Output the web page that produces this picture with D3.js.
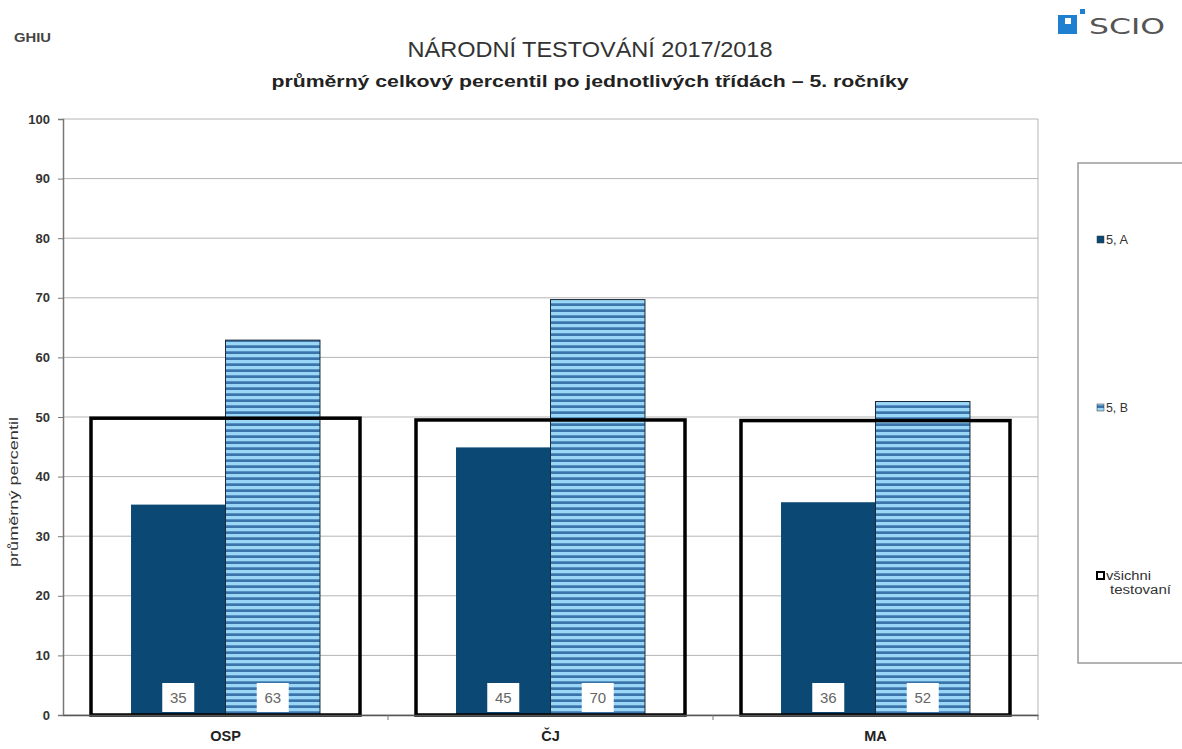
<!DOCTYPE html>
<html>
<head>
<meta charset="utf-8">
<script src="https://cdn.jsdelivr.net/npm/d3@7"></script>
<style>
  body { margin: 0; background: #fff; font-family: Arial, "Liberation Sans", sans-serif; }
  .axis text { font-family: Arial, "Liberation Sans", sans-serif; }
</style>
</head>
<body>
<div id="chart"></div>
<script>
// data
let categories = ["OSP", "ČJ", "MA"];
let seriesNames = ["5, A", "5, B"];
let classA = [35.3, 44.9, 35.7];
let classB = [62.9, 69.7, 52.6];
let allTested = [49.8, 49.5, 49.4];
let valueLabels = [[35, 63], [45, 70], [36, 52]];
let yTicks = [0, 10, 20, 30, 40, 50, 60, 70, 80, 90, 100];

let width = 1182, height = 749;
let margin = {top: 119, right: 144, bottom: 34, left: 63};

let svg = d3.select("#chart").append("svg")
    .attr("width", width)
    .attr("height", height);

// stripe pattern for 5. B
let defs = svg.append("defs");
let pat = defs.append("pattern")
    .attr("id", "stripes")
    .attr("patternUnits", "userSpaceOnUse")
    .attr("width", 8).attr("height", 6);
pat.append("rect").attr("width", 8).attr("height", 6).attr("fill", "#9ad7f7");
pat.append("rect").attr("y", 3.3).attr("width", 8).attr("height", 2.7).attr("fill", "#3b74aa");

// header texts
svg.append("text")
    .attr("x", 14).attr("y", 42)
    .attr("font-size", 13).attr("font-weight", "bold")
    .attr("fill", "#444")
    .attr("textLength", 37).attr("lengthAdjust", "spacingAndGlyphs")
    .text("GHIU");

svg.append("text")
    .attr("x", 590).attr("y", 57)
    .attr("text-anchor", "middle")
    .attr("font-size", 22).attr("fill", "#333")
    .attr("textLength", 365).attr("lengthAdjust", "spacingAndGlyphs")
    .text("NÁRODNÍ TESTOVÁNÍ 2017/2018");

svg.append("text")
    .attr("x", 590).attr("y", 87)
    .attr("text-anchor", "middle")
    .attr("font-size", 17).attr("font-weight", "bold").attr("fill", "#222")
    .attr("textLength", 637).attr("lengthAdjust", "spacingAndGlyphs")
    .text("průměrný celkový percentil po jednotlivých třídách – 5. ročníky");

// scio logo
let logo = svg.append("g");
logo.append("rect").attr("x", 1058).attr("y", 15).attr("width", 19).attr("height", 19).attr("fill", "#1f7fd0");
logo.append("rect").attr("x", 1065).attr("y", 18).attr("width", 6).attr("height", 6).attr("fill", "#fff");
logo.append("rect").attr("x", 1080).attr("y", 9).attr("width", 5).attr("height", 5).attr("fill", "#1f7fd0");
logo.append("text")
    .attr("x", 1089).attr("y", 34)
    .attr("font-size", 22).attr("fill", "#555")
    .attr("font-family", "'DejaVu Sans', sans-serif")
    .attr("textLength", 76).attr("lengthAdjust", "spacingAndGlyphs")
    .text("SCIO");

// scales
let x = d3.scaleBand()
    .domain(categories)
    .range([margin.left, width - margin.right])
    .paddingInner(0).paddingOuter(0);

let xInner = d3.scaleBand()
    .domain(seriesNames)
    .range([0, x.bandwidth()])
    .paddingInner(0)
    .paddingOuter(0.72);

let y = d3.scaleLinear()
    .domain([0, 100])
    .range([height - margin.bottom, margin.top]);

// gridlines
svg.append("g")
    .selectAll("line")
    .data(yTicks)
    .join("line")
    .attr("x1", margin.left).attr("x2", width - margin.right)
    .attr("y1", d => y(d)).attr("y2", d => y(d))
    .attr("stroke", "#b5b5b5").attr("stroke-width", 1);

// right border of plot
svg.append("line")
    .attr("x1", width - margin.right).attr("x2", width - margin.right)
    .attr("y1", y(100)).attr("y2", y(0))
    .attr("stroke", "#b5b5b5");

// bars
let groups = svg.append("g")
    .selectAll("g")
    .data(categories)
    .join("g")
    .attr("transform", d => `translate(${x(d)},0)`);

groups.append("rect")
    .attr("x", xInner("5, A"))
    .attr("y", (d, i) => y(classA[i]))
    .attr("width", xInner.bandwidth())
    .attr("height", (d, i) => y(0) - y(classA[i]))
    .attr("fill", "#0b4873");

groups.append("rect")
    .attr("x", xInner("5, B"))
    .attr("y", (d, i) => y(classB[i]))
    .attr("width", xInner.bandwidth())
    .attr("height", (d, i) => y(0) - y(classB[i]))
    .attr("fill", "url(#stripes)")
    .attr("stroke", "#1a2a3a").attr("stroke-width", 1);

// overall box (všichni testovaní)
let boxPad = 28;
groups.append("rect")
    .attr("x", boxPad)
    .attr("y", (d, i) => y(allTested[i]))
    .attr("width", x.bandwidth() - 2 * boxPad)
    .attr("height", (d, i) => y(0) - y(allTested[i]))
    .attr("fill", "none")
    .attr("stroke", "#000").attr("stroke-width", 3.5);

// value labels
seriesNames.forEach(function(s, j) {
    let lab = groups.append("g")
        .attr("transform", d => `translate(${xInner(s) + xInner.bandwidth() / 2},${y(0) - 17})`);
    lab.append("rect")
        .attr("x", -16).attr("y", -15)
        .attr("width", 32).attr("height", 29)
        .attr("fill", "#fff");
    lab.append("text")
        .attr("text-anchor", "middle")
        .attr("dy", "0.36em")
        .attr("font-size", 15).attr("fill", "#666")
        .text((d, i) => valueLabels[i][j]);
});

// axes
let yAxis = svg.append("g")
    .attr("class", "axis")
    .attr("transform", `translate(${margin.left},0)`)
    .call(d3.axisLeft(y).tickValues(yTicks).tickSize(5).tickPadding(8));
yAxis.select(".domain").attr("stroke", "#777").attr("stroke-width", 1.5);
yAxis.selectAll(".tick line").attr("stroke", "#777");
yAxis.selectAll("text").attr("font-size", 13).attr("font-weight", "bold").attr("fill", "#333");

let xAxis = svg.append("g")
    .attr("class", "axis")
    .attr("transform", `translate(0,${y(0)})`)
    .call(d3.axisBottom(x).tickSize(0).tickPadding(16));
xAxis.select(".domain").attr("stroke", "#555").attr("stroke-width", 1.5);
xAxis.selectAll("text").attr("font-size", 14.5).attr("font-weight", "bold").attr("fill", "#222");

// band boundary ticks
svg.append("g")
    .selectAll("line")
    .data(categories.slice(1).concat(["end"]))
    .join("line")
    .attr("x1", d => d === "end" ? width - margin.right : x(d))
    .attr("x2", d => d === "end" ? width - margin.right : x(d))
    .attr("y1", y(0)).attr("y2", y(0) + 5)
    .attr("stroke", "#777");

// y axis title
svg.append("text")
    .attr("transform", "translate(18,492) rotate(-90)")
    .attr("text-anchor", "middle")
    .attr("font-size", 12.5).attr("fill", "#333")
    .attr("textLength", 150).attr("lengthAdjust", "spacingAndGlyphs")
    .text("průměrný percentil");

// legend
let legend = svg.append("g");
legend.append("rect")
    .attr("x", 1078).attr("y", 163)
    .attr("width", 120).attr("height", 500)
    .attr("fill", "#fff").attr("stroke", "#999").attr("stroke-width", 1.5);

let legendItems = [
    {name: "5, A", y: 240, fill: "#0b4873", len: 22},
    {name: "5, B", y: 408, fill: "url(#stripes)", len: 22},
    {name: "všichni", y: 576, fill: "#fff", len: 45}
];
legendItems.forEach(function(it, i) {
    legend.append("rect")
        .attr("x", 1097).attr("y", it.y - 4)
        .attr("width", 7).attr("height", 7)
        .attr("fill", it.fill)
        .attr("stroke", i === 2 ? "#000" : "#333")
        .attr("stroke-width", i === 2 ? 2 : 0.5);
    legend.append("text")
        .attr("x", 1106).attr("y", it.y + 4)
        .attr("font-size", 12).attr("fill", "#333")
        .attr("textLength", it.len).attr("lengthAdjust", "spacingAndGlyphs")
        .text(it.name);
});
legend.append("text")
    .attr("x", 1110).attr("y", 594)
    .attr("font-size", 12).attr("fill", "#333")
    .attr("textLength", 61).attr("lengthAdjust", "spacingAndGlyphs")
    .text("testovaní");
</script>
</body>
</html>
